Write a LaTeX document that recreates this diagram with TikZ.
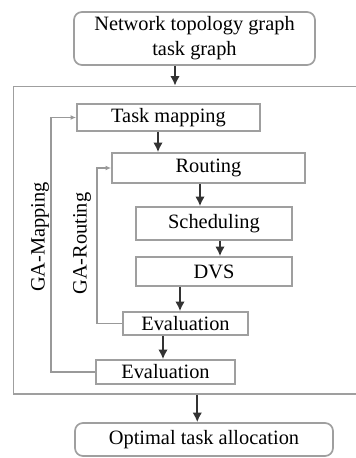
\documentclass[tikz,border=0pt]{standalone}
\usepackage{fontspec}
\setmainfont{Liberation Serif}
\usepackage{tikz}
\usetikzlibrary{arrows.meta}

\begin{document}
\begin{tikzpicture}[
    font=\fontsize{14.5}{17.8}\selectfont,
    stepbox/.style={draw=gray!75, line width=1.2pt, inner sep=0pt, align=center},
    endbox/.style={stepbox, rounded corners=0.2cm},
    flow/.style={black!80, line width=1.3pt, -{Latex[length=2.4mm,width=2.4mm]}},
    loop/.style={gray!80, line width=1.1pt, -{Latex[length=1.4mm,width=1.2mm]}}
]
            \useasboundingbox (0,0) rectangle (8.9,11.45);
            % outer frame of the GA loops
            \node[stepbox, minimum width=8.6625cm, minimum height=7.6875cm] (ga) at (4.669,5.444) {};
            \node[endbox, minimum width=6.025cm, minimum height=1.325cm] (topo) at (4.8625,10.4875) {Network topology graph\\task graph};
            \node[stepbox, minimum width=4.575cm, minimum height=0.675cm] (task) at (4.2125,8.5125) {Task mapping};
            \node[stepbox, minimum width=4.825cm, minimum height=0.75cm] (route) at (5.2125,7.25) {Routing};
            \node[stepbox, minimum width=3.9cm, minimum height=0.825cm] (sched) at (5.35,5.8625) {Scheduling};
            \node[stepbox, minimum width=3.9cm, minimum height=0.725cm] (dvs) at (5.35,4.6625) {DVS};
            \node[stepbox, minimum width=3.125cm, minimum height=0.575cm] (evalr) at (4.6375,3.3625) {Evaluation};
            \node[stepbox, minimum width=3.475cm, minimum height=0.6cm] (evalm) at (4.1375,2.15) {Evaluation};
            \node[endbox, minimum width=6.45cm, minimum height=0.825cm] (opt) at (5.1,0.4625) {Optimal task allocation};
            % loop labels
            \node[rotate=90] (gamap) at (1.0,5.525) {GA-Mapping};
            \node[rotate=90] (garout) at (2.05,5.36) {GA-Routing};
            % main flow
            \draw[flow] ([xshift=-0.4875cm]topo.south) -- ([xshift=-0.4875cm]topo.south |- ga.north);
            \draw[flow] ([xshift=-0.2625cm]task.south) -- ([xshift=-0.2625cm]task.south |- route.north);
            \draw[flow] ([xshift=-0.2125cm]route.south) -- ([xshift=-0.2125cm]route.south |- sched.north);
            \draw[flow] ([xshift=0.15cm]sched.south) -- ([xshift=0.15cm]sched.south |- dvs.north);
            \draw[flow] ([xshift=-0.85cm]dvs.south) -- ([xshift=-0.85cm]dvs.south |- evalr.north);
            \draw[flow] ([xshift=-0.5625cm]evalr.south) -- ([xshift=-0.5625cm]evalr.south |- evalm.north);
            \draw[flow] ([xshift=0.2625cm]ga.south) -- ([xshift=0.2625cm]ga.south |- opt.north);
            % feedback loops
            \draw[loop] (evalm.west) -- ++(-1.1,0) |- (task.west);
            \draw[loop] (evalr.west) -- ++(-0.625,0) |- (route.west);
        \end{tikzpicture}
\end{document}
